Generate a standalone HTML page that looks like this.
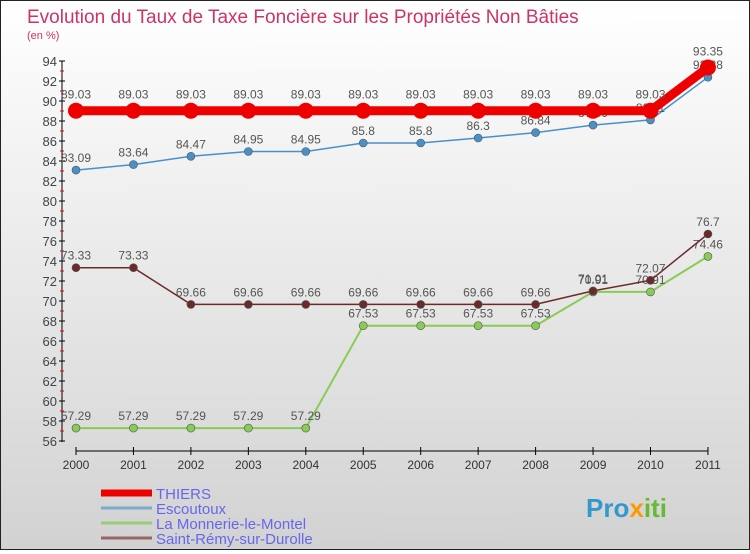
<!DOCTYPE html>
<html><head><meta charset="utf-8"><style>
body{margin:0;width:750px;height:550px;overflow:hidden;font-family:"Liberation Sans",sans-serif}
#wrap{position:absolute;left:0;top:0;width:748px;height:548px;border:1px solid #222;background:linear-gradient(#ffffff,#d2d2d2)}
</style></head><body>
<div id="wrap">
<svg id="chart" width="748" height="548">
<text x="26" y="22" font-size="19" fill="#cc3366">Evolution du Taux de Taxe Foncière sur les Propriétés Non Bâties</text>
<text x="26" y="38" font-size="11" fill="#cc3366">(en %)</text>
<g id="axes"></g><g id="series"></g><g id="legend"></g>
<text x="585" y="516" font-size="26" font-weight="bold" fill="#3399cc">Pro<tspan fill="#ff9900">x</tspan><tspan fill="#66bb33">iti</tspan></text>
</svg></div>
<script>
const years=["2000","2001","2002","2003","2004","2005","2006","2007","2008","2009","2010","2011"];
const thiers=[89.03,89.03,89.03,89.03,89.03,89.03,89.03,89.03,89.03,89.03,89.03,93.35];
const escoutoux=[83.09,83.64,84.47,84.95,84.95,85.8,85.8,86.3,86.84,87.59,88.11,92.38];
const monnerie=[57.29,57.29,57.29,57.29,57.29,67.53,67.53,67.53,67.53,70.91,70.91,74.46];
const stremy=[73.33,73.33,69.66,69.66,69.66,69.66,69.66,69.66,69.66,71.01,72.07,76.7];
const yTicks=[56,58,60,62,64,66,68,70,72,74,76,78,80,82,84,86,88,90,92,94];
const names=["THIERS","Escoutoux","La Monnerie-le-Montel","Saint-Rémy-sur-Durolle"];
const NS="http://www.w3.org/2000/svg";
const x=i=>75+i*57.45, y=v=>440-(v-56)*10;
function mk(t,a,p){const e=document.createElementNS(NS,t);for(const k in a)e.setAttribute(k,a[k]);p.appendChild(e);return e;}
const ax=document.getElementById('axes');
let l=mk('line',{x1:61,y1:60,x2:61,y2:441,stroke:'#000'},ax);


l=mk('line',{x1:75,y1:450,x2:707,y2:450,stroke:'#000'},ax);


yTicks.forEach((v,k)=>{
 mk('line',{x1:58,y1:y(v),x2:64,y2:y(v),stroke:'#000'},ax);
 if(k<yTicks.length-1)mk('line',{x1:59,y1:y(v+1),x2:63,y2:y(v+1),stroke:'#e00'},ax);
 const t=mk('text',{x:56,y:y(v)+5,'text-anchor':'end','font-size':13,fill:'#444'},ax);t.textContent=v;
 
 
});
years.forEach((yr,i)=>{
 mk('line',{x1:x(i),y1:446,x2:x(i),y2:454,stroke:'#000'},ax);
 const t=mk('text',{x:x(i),y:468,'text-anchor':'middle','font-size':12,fill:'#333'},ax);t.textContent=yr;
 
 
});
const sg=document.getElementById('series');
function series(data,color,w,r,name){
 const g=mk('g',{},sg);
 
 
 mk('polyline',{points:data.map((v,i)=>x(i)+','+y(v)).join(' '),fill:'none',stroke:color,'stroke-width':w},g);
 data.forEach((v,i)=>{
  const c=mk('circle',{cx:x(i),cy:y(v),r:r,fill:color,stroke:r<8?'#555':'none','stroke-width':0.6},g);
  
  
  const t=mk('text',{x:x(i),y:y(v)-8-(r>6?4:0),'text-anchor':'middle','font-size':12,fill:'#555'},g);
  t.textContent=String(v);
  
  
 });
}
series(monnerie,'#88cc55',2,4,'series-la-monnerie');
series(stremy,'#6b2a2a',1.5,4,'series-saint-remy');
series(escoutoux,'#4a90c8',1.5,4,'series-escoutoux');
series(thiers,'#ee0000',9,8,'series-thiers');
const lg=document.getElementById('legend');
const cols=['#ee0000','#7aaacc','#99cc77','#996666'],ws=[7,3,3,3];
names.forEach((n,i)=>{
 const yy=492+i*15;
 const ln=mk('line',{x1:100,y1:yy,x2:151,y2:yy,stroke:cols[i],'stroke-width':ws[i]},lg);
 
 
 const t=mk('text',{x:155,y:yy+6,'font-size':15,fill:'#6666ee'},lg);t.textContent=n;
 
 
});
</script>
</body></html>
